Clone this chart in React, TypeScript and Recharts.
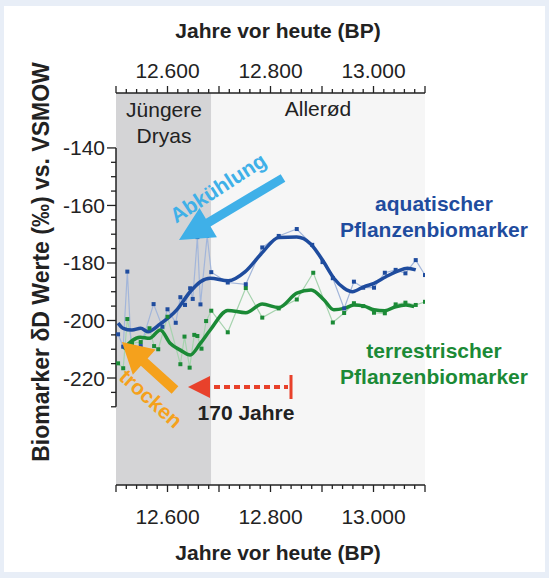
import React from "react";
import { ComposedChart, Line, XAxis, YAxis, ReferenceArea, ReferenceLine } from "recharts";

const FONT = '"Liberation Sans", Arial, Helvetica, sans-serif';

// aquatic plant biomarker, single samples
const aquaYears = [12504, 12514, 12522, 12531, 12548, 12573, 12590, 12600, 12616, 12625, 12634, 12644, 12649, 12658, 12664, 12677, 12685, 12717, 12752, 12784, 12816, 12851, 12881, 12901, 12921, 12943, 12962, 12980, 13001, 13022, 13043, 13062, 13082, 13100];
const aquaValues = [-204.8, -209.1, -183.0, -214.3, -208.9, -194.3, -202.2, -196.1, -200.8, -191.9, -194.6, -188.8, -192.5, -171.0, -194.4, -170.6, -183.2, -186.8, -187.4, -174.6, -170.6, -168.2, -173.7, -179.7, -185.3, -195.8, -186.5, -188.6, -188.6, -183.4, -182.4, -183.6, -179.0, -184.2];

// aquatic, smoothed curve
const aquaSmoothYears = [12504, 12514, 12531, 12548, 12562, 12586, 12618, 12644, 12664, 12683, 12718, 12751, 12784, 12816, 12851, 12878, 12901, 12923, 12943, 12959, 12982, 13001, 13024, 13047, 13066, 13082];
const aquaSmoothValues = [-200.9, -202.7, -203.3, -202.7, -203.9, -201.2, -196.3, -190.0, -186.5, -185.3, -186.2, -183.0, -176.4, -171.1, -171.0, -173.4, -179.0, -185.3, -188.8, -190.0, -188.2, -187.1, -184.8, -182.8, -181.8, -182.4];

// terrestrial plant biomarker, single samples
const terrYears = [12504, 12514, 12522, 12531, 12548, 12565, 12574, 12582, 12600, 12625, 12633, 12643, 12652, 12658, 12666, 12675, 12685, 12717, 12752, 12784, 12816, 12851, 12883, 12921, 12943, 12962, 12980, 13001, 13022, 13043, 13062, 13082, 13100];
const terrValues = [-214.9, -216.6, -199.5, -207.9, -207.5, -202.7, -208.9, -210.0, -198.7, -215.2, -205.6, -216.4, -205.0, -205.4, -209.8, -200.2, -196.6, -204.1, -188.7, -199.0, -195.8, -192.7, -183.4, -200.7, -197.4, -194.0, -195.0, -197.3, -197.5, -194.4, -193.8, -194.6, -193.5];

// terrestrial, smoothed curve
const terrSmoothYears = [12514, 12547, 12565, 12586, 12605, 12625, 12644, 12664, 12683, 12717, 12752, 12784, 12816, 12851, 12879, 12904, 12923, 12943, 12962, 12982, 13001, 13022, 13043, 13063, 13079];
const terrSmoothValues = [-209.9, -205.8, -206.2, -203.3, -207.9, -210.3, -212.0, -207.9, -203.3, -196.5, -197.3, -194.3, -195.5, -190.5, -189.4, -192.9, -196.3, -195.8, -194.6, -195.0, -196.3, -196.6, -195.2, -194.6, -195.2];

const xLabelTicks = [12600, 12800, 13000];
const yLabelTicks = [-140, -160, -180, -200, -220];
const dryasStart = 12500;
const dryasEnd = 12685;
const xEnd = 13100;

const xTicks: number[] = [];
for (let t = dryasStart; t <= xEnd; t += 20) xTicks.push(t);
const yTicks: number[] = [];
for (let t = -140; t >= -230; t -= 5) yTicks.push(t);

const toPoints = (years: number[], values: number[]) =>
  years.map((year, i) => ({ year, v: values[i] }));

const aquaRaw = toPoints(aquaYears, aquaValues);
const aquaSmooth = toPoints(aquaSmoothYears, aquaSmoothValues);
const terrRaw = toPoints(terrYears, terrValues);
const terrSmooth = toPoints(terrSmoothYears, terrSmoothValues);

const BLUE = "#1f4c9e";
const GREEN = "#1b8a36";
const LIGHT_BLUE = "#3fb0e8";
const ORANGE = "#f5a11c";
const RED = "#e8412b";
const INK = "#222";

const fmtYear = (v: number) => `${Math.floor(v / 1000)}.${String(v % 1000).padStart(3, "0")}`;

const squareDot = (color: string) => (props: any) => {
  const { cx, cy, index } = props;
  if (cx == null || cy == null) return <g key={`e-${index}`} />;
  return <rect key={`d-${index}`} x={cx - 2} y={cy - 2} width={4} height={4} fill={color} />;
};

const xTick = (side: "top" | "bottom") => (props: any) => {
  const { x, y, payload } = props;
  const v = payload.value;
  const len = v % 100 === 0 ? 7 : 4;
  const dir = side === "top" ? -1 : 1;
  return (
    <g>
      <line x1={x} x2={x} y1={y} y2={y + dir * len} stroke={INK} strokeWidth={1.3} />
      {xLabelTicks.includes(v) && (
        <text x={x} y={side === "top" ? y - 15 : y + 39} textAnchor="middle" fontSize={21} fill={INK} fontFamily={FONT}>
          {fmtYear(v)}
        </text>
      )}
    </g>
  );
};

const yTick = (props: any) => {
  const { x, y, payload } = props;
  const v = payload.value;
  const len = v % 20 === 0 ? 9 : 5;
  return (
    <g>
      <line x1={x - len} x2={x} y1={y} y2={y} stroke={INK} strokeWidth={1.3} />
      {yLabelTicks.includes(v) && (
        <text x={x - 11} y={y + 7.5} textAnchor="end" fontSize={21} fill={INK} fontFamily={FONT}>
          {v}
        </text>
      )}
    </g>
  );
};

function arrow(tx: number, ty: number, px: number, py: number, shaft: number, headLen: number, headHalf: number) {
  const dx = px - tx;
  const dy = py - ty;
  const L = Math.hypot(dx, dy);
  const ux = dx / L;
  const uy = dy / L;
  const nx = -uy;
  const ny = ux;
  const bx = px - ux * headLen;
  const by = py - uy * headLen;
  const s = shaft / 2;
  return [
    [tx + nx * s, ty + ny * s],
    [bx + nx * s, by + ny * s],
    [bx + nx * headHalf, by + ny * headHalf],
    [px, py],
    [bx - nx * headHalf, by - ny * headHalf],
    [bx - nx * s, by - ny * s],
    [tx - nx * s, ty - ny * s],
  ]
    .map((p) => p.join(","))
    .join(" ");
}

export default function App() {
  return (
    <div style={{ position: "absolute", left: 0, top: 0, width: 549, height: 578, background: "#e8eef7", fontFamily: FONT }}>
      <div style={{ position: "absolute", left: 4, top: 6, width: 541, height: 566, background: "#fff" }} />
      <div style={{ position: "absolute", left: 0, top: 0 }}>
        <ComposedChart width={549} height={578} margin={{ top: 63, right: 124, bottom: 63, left: 56 }}>
          <XAxis
            xAxisId="top"
            orientation="top"
            type="number"
            dataKey="year"
            domain={[dryasStart, xEnd]}
            allowDataOverflow
            ticks={xTicks}
            interval={0}
            height={30}
            tickSize={0}
            tickMargin={0}
            tickLine={false}
            axisLine={{ stroke: INK, strokeWidth: 1.5 }}
            tick={xTick("top")}
          />
          <XAxis
            xAxisId="bottom"
            orientation="bottom"
            type="number"
            dataKey="year"
            domain={[dryasStart, xEnd]}
            allowDataOverflow
            ticks={xTicks}
            interval={0}
            height={30}
            tickSize={0}
            tickMargin={0}
            tickLine={false}
            axisLine={{ stroke: INK, strokeWidth: 1.5 }}
            tick={xTick("bottom")}
          />
          <YAxis
            type="number"
            domain={[-257.2, -120.9]}
            allowDataOverflow
            ticks={yTicks}
            interval={0}
            width={60}
            tickSize={0}
            tickMargin={0}
            tickLine={false}
            axisLine={false}
            tick={yTick}
          />
          <ReferenceArea xAxisId="bottom" x1={dryasStart} x2={dryasEnd} fill="#d4d4d6" fillOpacity={1} stroke="none" />
          <ReferenceArea xAxisId="bottom" x1={dryasEnd} x2={xEnd} fill="#f6f6f6" fillOpacity={1} stroke="none" />
          <ReferenceLine
            xAxisId="bottom"
            segment={[{ x: dryasStart, y: -140 }, { x: dryasStart, y: -230 }]}
            stroke={INK}
            strokeWidth={1.5}
          />
          <Line xAxisId="bottom" data={terrRaw} dataKey="v" type="linear" stroke="#a6d3ae" strokeWidth={1.2} dot={squareDot(GREEN)} activeDot={false} isAnimationActive={false} />
          <Line xAxisId="bottom" data={aquaRaw} dataKey="v" type="linear" stroke="#a3b6da" strokeWidth={1.2} dot={squareDot(BLUE)} activeDot={false} isAnimationActive={false} />
          <Line xAxisId="bottom" data={terrSmooth} dataKey="v" type="monotone" stroke={GREEN} strokeWidth={3.5} dot={false} activeDot={false} isAnimationActive={false} />
          <Line xAxisId="bottom" data={aquaSmooth} dataKey="v" type="monotone" stroke={BLUE} strokeWidth={3.5} dot={false} activeDot={false} isAnimationActive={false} />
        </ComposedChart>
      </div>
      <svg width={549} height={578} style={{ position: "absolute", left: 0, top: 0, pointerEvents: "none" }} fontFamily={FONT}>
        <text x={278} y={38} textAnchor="middle" fontSize={21} fontWeight="bold" fill={INK}>Jahre vor heute (BP)</text>
        <text x={278} y={560} textAnchor="middle" fontSize={21} fontWeight="bold" fill={INK}>Jahre vor heute (BP)</text>
        <text transform="translate(49,262) rotate(-90)" textAnchor="middle" fontSize={23} fontWeight="bold" fill={INK}>
          Biomarker δD Werte (‰) vs. VSMOW
        </text>
        <text x={164} y={117} textAnchor="middle" fontSize={21} fill={INK}>Jüngere</text>
        <text x={164} y={143} textAnchor="middle" fontSize={21} fill={INK}>Dryas</text>
        <text x={318} y={116} textAnchor="middle" fontSize={21} fill={INK}>Allerød</text>

        <text x={434} y={211} textAnchor="middle" fontSize={21} fontWeight="bold" fill={BLUE}>aquatischer</text>
        <text x={434} y={237} textAnchor="middle" fontSize={21} fontWeight="bold" fill={BLUE}>Pflanzenbiomarker</text>
        <text x={434} y={358} textAnchor="middle" fontSize={21} fontWeight="bold" fill={GREEN}>terrestrischer</text>
        <text x={434} y={384} textAnchor="middle" fontSize={21} fontWeight="bold" fill={GREEN}>Pflanzenbiomarker</text>

        <polygon points={arrow(283, 178, 179, 240, 9, 34, 17)} fill={LIGHT_BLUE} />
        <text transform="translate(222,194) rotate(-33)" textAnchor="middle" fontSize={21} fontWeight="bold" fill={LIGHT_BLUE}>Abkühlung</text>

        <polygon points={arrow(175, 390, 122, 342, 10, 30, 17)} fill={ORANGE} />
        <text transform="translate(146,404) rotate(42)" textAnchor="middle" fontSize={21} fontWeight="bold" fill={ORANGE}>trocken</text>

        <polygon points="188,387 210,376 210,398" fill={RED} />
        <line x1={214} x2={288} y1={387} y2={387} stroke={RED} strokeWidth={4} strokeDasharray="6 4" />
        <line x1={291} x2={291} y1={375} y2={399} stroke={RED} strokeWidth={3} />
        <text x={246} y={420} textAnchor="middle" fontSize={21} fontWeight="bold" fill={INK}>170 Jahre</text>
      </svg>
    </div>
  );
}
